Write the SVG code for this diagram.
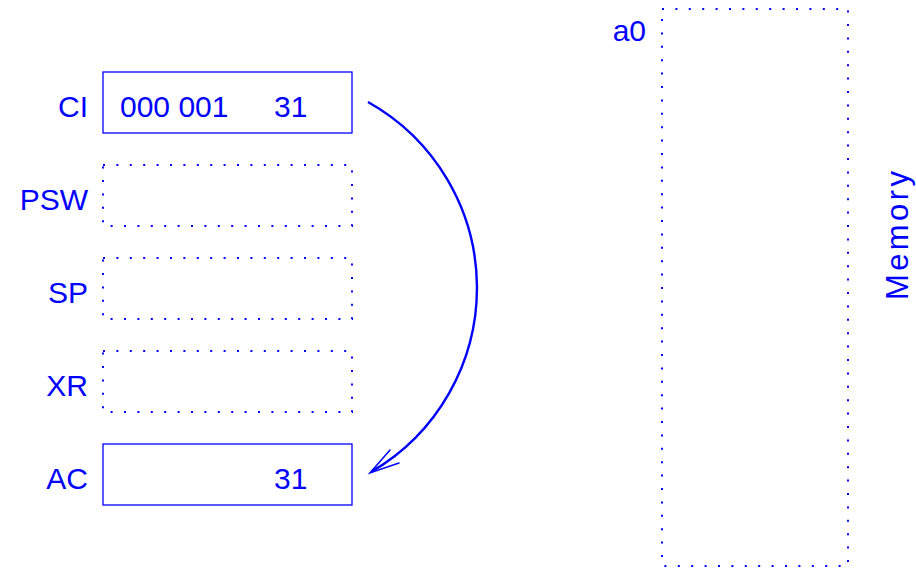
<svg xmlns="http://www.w3.org/2000/svg" width="916" height="568" viewBox="0 0 916 568">
  <style>
    text { font-family: "Liberation Sans", Arial, sans-serif; font-size: 30px; fill: #0000ff; }
    .lbl { text-anchor: end; }
    .solid { fill: none; stroke: #0000ff; stroke-width: 1.3; }
    .dotted { fill: none; stroke: #0000ff; stroke-width: 2; stroke-dasharray: 2 11.4; }
    .flow { fill: none; stroke: #0000ff; stroke-width: 2.4; }
    .head { fill: none; stroke: #0000ff; stroke-width: 1.5; stroke-linecap: round; }
    .side { font-size: 31px; }
  </style>
  <rect width="916" height="568" fill="#ffffff"/>

  <!-- registers -->
  <g id="reg-ci">
    <rect class="solid" x="103" y="72" width="249" height="61"/>
    <text class="lbl" x="88" y="117">CI</text>
    <text x="120" y="117">000 001</text>
    <text x="274" y="117">31</text>
  </g>
  <g id="reg-psw">
    <rect class="dotted" x="103" y="165" width="249" height="61"/>
    <text class="lbl" x="88" y="210">PSW</text>
  </g>
  <g id="reg-sp">
    <rect class="dotted" x="103" y="258" width="249" height="61"/>
    <text class="lbl" x="88" y="303">SP</text>
  </g>
  <g id="reg-xr">
    <rect class="dotted" x="103" y="351" width="249" height="61"/>
    <text class="lbl" x="88" y="396">XR</text>
  </g>
  <g id="reg-ac">
    <rect class="solid" x="103" y="444" width="249" height="61"/>
    <text class="lbl" x="88" y="489">AC</text>
    <text x="274" y="489">31</text>
  </g>

  <!-- memory block -->
  <g id="memory">
    <rect class="dotted" x="662" y="9" width="186" height="557"/>
    <text class="lbl" x="646" y="41">a0</text>
    <text class="side" transform="translate(908 300) rotate(-90)" textLength="129" lengthAdjust="spacing">Memory</text>
  </g>

  <!-- transfer CI -> AC -->
  <g id="connectors">
    <path class="flow" d="M368,102 A213,213 0 0 1 371,472"/>
    <path class="head" d="M390,450 L370,473 L399,463"/>
  </g>
</svg>
